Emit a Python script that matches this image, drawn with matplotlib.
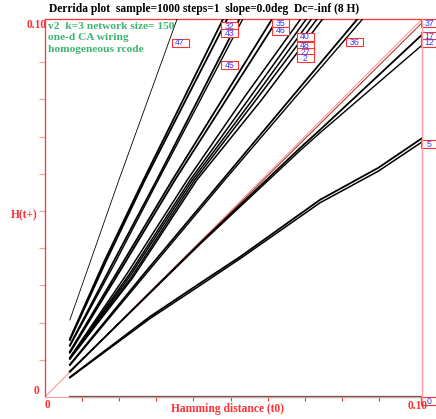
import matplotlib
matplotlib.use("Agg")
import matplotlib.pyplot as plt
from matplotlib.patches import Rectangle

# Derrida curves: Hamming distance t0 -> H(t+)
# each rule: list of x (t0) and y (H(t+)) points
r47_x = [0.0067, 0.0199, 0.0356]
r47_y = [0.0207, 0.0583, 0.1016]

r32_x = [0.0067, 0.0160, 0.0265, 0.0480]
r32_y = [0.0156, 0.0365, 0.0583, 0.1016]
r43_x = [0.0067, 0.0163, 0.0269, 0.0491]
r43_y = [0.0153, 0.0362, 0.0583, 0.1016]

r45_x = [0.0067, 0.0180, 0.0301, 0.0524]
r45_y = [0.0139, 0.0355, 0.0583, 0.1016]
r45b_x = [0.0067, 0.0184, 0.0305, 0.0533]
r45b_y = [0.0137, 0.0352, 0.0583, 0.1016]

r35_x = [0.0067, 0.0200, 0.0343, 0.0612]
r35_y = [0.0122, 0.0345, 0.0583, 0.1016]
r46_x = [0.0067, 0.0204, 0.0350, 0.0627]
r46_y = [0.0119, 0.0342, 0.0583, 0.1016]

r40_x = [0.0067, 0.0220, 0.0383, 0.0540, 0.0689]
r40_y = [0.0106, 0.0330, 0.0583, 0.0810, 0.1016]
r48_x = [0.0067, 0.0226, 0.0391, 0.0552, 0.0704]
r48_y = [0.0105, 0.0328, 0.0583, 0.0805, 0.1016]
r27_x = [0.0067, 0.0229, 0.0397, 0.0560, 0.0718]
r27_y = [0.0104, 0.0325, 0.0583, 0.0800, 0.1016]
r2_x = [0.0067, 0.0233, 0.0403, 0.0572, 0.0733]
r2_y = [0.0103, 0.0322, 0.0583, 0.0803, 0.1016]
r_e_x = [0.0067, 0.0236, 0.0409, 0.0583, 0.0748]
r_e_y = [0.0102, 0.0320, 0.0583, 0.0798, 0.1016]

r36_x = [0.0067, 0.0270, 0.0478, 0.0660, 0.0842]
r36_y = [0.0087, 0.0335, 0.0583, 0.0800, 0.1016]
r36b_x = [0.0067, 0.0274, 0.0484, 0.0668, 0.0856]
r36b_y = [0.0085, 0.0333, 0.0583, 0.0798, 0.1016]

r37_x = [0.0067, 0.1015]
r37_y = [0.0068, 0.1005]

r12_x = [0.0067, 0.0418, 0.0687, 0.0741, 0.1015]
r12_y = [0.0068, 0.0414, 0.0669, 0.0718, 0.0973]
r12b_x = [0.0067, 0.0418, 0.0687, 0.0741, 0.1015]
r12b_y = [0.0069, 0.0411, 0.0662, 0.0710, 0.0945]

r5_x = [0.0067, 0.0283, 0.0418, 0.0526, 0.0741, 0.0898, 0.1015]
r5_y = [0.0053, 0.0216, 0.0306, 0.0377, 0.0530, 0.0616, 0.0695]
r5b_x = [0.0067, 0.0283, 0.0418, 0.0526, 0.0741, 0.0898, 0.1015]
r5b_y = [0.0052, 0.0211, 0.0300, 0.0372, 0.0522, 0.0607, 0.0685]

r0_x = [0.0067, 0.1015]
r0_y = [0.0, 0.0]

bundles = [
    (r47_x, r47_y, 0.6), (r32_x, r32_y, 1.3), (r43_x, r43_y, 1.3),
    (r45_x, r45_y, 1.3), (r45b_x, r45b_y, 1.0), (r35_x, r35_y, 1.3),
    (r46_x, r46_y, 1.3), (r40_x, r40_y, 1.1), (r48_x, r48_y, 1.1),
    (r27_x, r27_y, 1.1), (r2_x, r2_y, 1.1), (r_e_x, r_e_y, 1.1),
    (r36_x, r36_y, 1.3), (r36b_x, r36b_y, 1.0), (r12_x, r12_y, 1.3),
    (r12b_x, r12b_y, 1.0), (r5_x, r5_y, 1.3), (r5b_x, r5b_y, 1.1),
]

# rule labels (text, x, y)
labels = [("47", 0.0364, 0.0952), ("32", 0.0497, 0.0997), ("43", 0.0497, 0.0978),
          ("45", 0.0497, 0.0892), ("35", 0.0635, 0.1004), ("46", 0.0635, 0.0984),
          ("40", 0.0701, 0.0968), ("48", 0.0701, 0.0944), ("27", 0.0701, 0.0926),
          ("2", 0.0701, 0.0911), ("36", 0.0834, 0.0954), ("37", 0.1036, 0.1005),
          ("17", 0.1036, 0.0970), ("12", 0.1036, 0.0952), ("5", 0.1036, 0.0680),
          ("0", 0.1036, -0.0011)]

W, H = 436, 419
fig = plt.figure(figsize=(W / 100, H / 100), dpi=100)
ax = fig.add_axes([45 / W, 1 - 397 / H, (421.7 - 45) / W, (397 - 19) / H])
ax.set_xlim(0, 0.1015)
ax.set_ylim(0, 0.1016)

red = '#ff3030'
pink = '#ffa0a0'
serif = 'Liberation Serif'

# diagonal
ax.plot([0, 0.1015], [0, 0.1015], color=pink, lw=0.9, zorder=1)
ax.plot(r37_x, r37_y, color='#a02828', lw=0.7, zorder=2)
ax.plot(r0_x, r0_y, color='#555555', lw=1.6, zorder=2, clip_on=False)

for xs, ys, lw in bundles:
    ax.plot(xs, ys, color='black', lw=lw, zorder=3)

for sp in ['left', 'top']:
    ax.spines[sp].set_color(red)
    ax.spines[sp].set_linewidth(0.9)
ax.spines['right'].set_color(pink)
ax.spines['bottom'].set_color(pink)

ax.set_xticks([i / 100 for i in range(1, 10)])
ax.set_yticks([i / 100 for i in range(1, 10)])
ax.set_xticklabels([])
ax.set_yticklabels([])
ax.tick_params(axis='x', colors=red, length=3, width=0.8, direction='out')
ax.tick_params(axis='y', colors=pink, length=4.5, width=0.9, direction='out')

# right vertical line extending below the axis
fig.add_artist(plt.Line2D([421.7 / W, 421.7 / W], [1 - 19 / H, 1 - 406 / H],
                          color=pink, lw=1.0))

bw = 17 / 3710
bh = 8.5 / 3720
for txt, lx, ly in labels:
    ax.add_patch(Rectangle((lx - bw / 2, ly - bh / 2), bw, bh, fc='white',
                           ec=red, lw=0.8, clip_on=False, zorder=5))
    ax.text(lx, ly, txt, color='#3a3aff', fontsize=6.3, ha='center', va='center',
            family='Liberation Sans', clip_on=False, zorder=6)


def ftext(px, py, s, **kw):
    fig.text(px / W, 1 - py / H, s, family=serif, fontweight='bold', **kw)


ftext(204, 9, "Derrida plot  sample=1000 steps=1  slope=0.0deg  Dc=-inf (8 H)",
      fontsize=8.3, ha='center', va='center', color='black')
green = '#3cb371'
ftext(48, 26.5, "v2  k=3 network size= 150", fontsize=8.2, ha='left', va='center', color=green)
ftext(48, 38, "one-d CA wiring", fontsize=8.2, ha='left', va='center', color=green)
ftext(48, 49.5, "homogeneous rcode", fontsize=8.2, ha='left', va='center', color=green)

ftext(37, 25, "0.10", fontsize=8.3, ha='center', va='center', color=red)
ftext(36, 391, "0", fontsize=8.3, ha='center', va='center', color=red)
ftext(24, 215, "H(t+)", fontsize=8.3, ha='center', va='center', color=red)
ftext(47, 405, "0", fontsize=8.3, ha='center', va='center', color=red)
ftext(418, 406, "0.10", fontsize=8.3, ha='center', va='center', color=red)
ftext(227, 409, "Hamming distance (t0)", fontsize=8.3, ha='center', va='center', color=red)

fig.savefig('out.png', dpi=100)
